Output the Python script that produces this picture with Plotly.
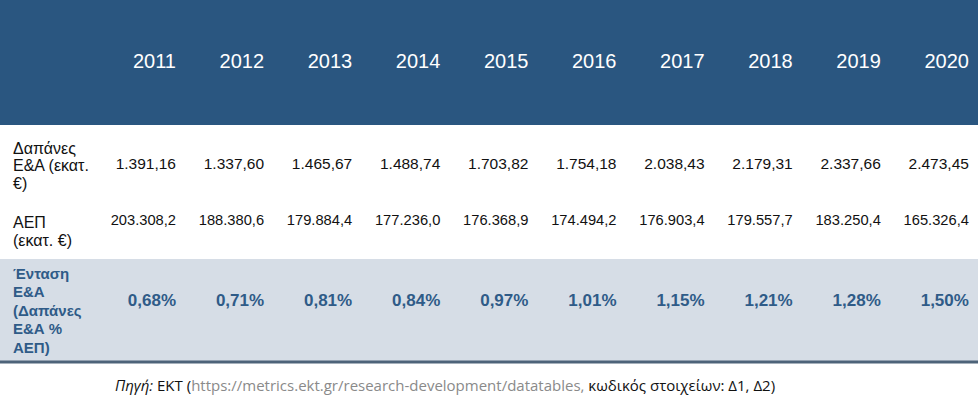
import plotly.graph_objects as go

years = ["2011", "2012", "2013", "2014", "2015", "2016", "2017", "2018", "2019", "2020"]
rd_spend = ["1.391,16", "1.337,60", "1.465,67", "1.488,74", "1.703,82",
            "1.754,18", "2.038,43", "2.179,31", "2.337,66", "2.473,45"]
gdp = ["203.308,2", "188.380,6", "179.884,4", "177.236,0", "176.368,9",
       "174.494,2", "176.903,4", "179.557,7", "183.250,4", "165.326,4"]
intensity = ["0,68%", "0,71%", "0,81%", "0,84%", "0,97%",
             "1,01%", "1,15%", "1,21%", "1,28%", "1,50%"]
row_labels = [
    ["Δαπάνες", "Ε&Α (εκατ.", "€)"],
    ["ΑΕΠ", "(εκατ. €)"],
    ["Ένταση", "Ε&Α", "(Δαπάνες", "Ε&Α %", "ΑΕΠ)"],
]

W, H = 978, 404
HEADER_BG = "#2a5680"
BAND_BG = "#d6dde6"
BLUE_TXT = "#2f5b88"
FONT = "Liberation Sans, Arial, sans-serif"

# right edge of each column in pixel units
col_x = [176 + 88.1 * i for i in range(len(years))]

fig = go.Figure()

fig.add_shape(type="rect", x0=0, x1=W, y0=0, y1=125, fillcolor=HEADER_BG, line_width=0, layer="below")
fig.add_shape(type="rect", x0=0, x1=W, y0=259, y1=362, fillcolor=BAND_BG, line_width=0, layer="below")
fig.add_shape(type="line", x0=0, x1=W, y0=362, y1=362, line=dict(color="#4d6379", width=3))


def row(values, y, size, color, bold=False):
    txt = [f"<b>{v}</b>" for v in values] if bold else values
    fig.add_trace(go.Scatter(
        x=col_x, y=[y] * len(values), text=txt, mode="text",
        textposition="middle left", textfont=dict(family=FONT, size=size, color=color),
        hoverinfo="skip", showlegend=False,
    ))


row(years, 63, 20, "white")
row(rd_spend, 165, 15.5, "#111111")
row(gdp, 221, 14.7, "#111111")
row(intensity, 302, 17, BLUE_TXT, bold=True)

# label blocks: (y of first line, line step, size, bold) - one annotation per line
label_specs = [(148, 17.5, 16, False), (222, 18, 16, False), (273, 18.5, 15, True)]
for lines, (y0, step, size, bold) in zip(row_labels, label_specs):
    for k, line in enumerate(lines):
        fig.add_annotation(
            x=11, y=y0 + k * step, xref="x", yref="y", xanchor="left", yanchor="middle",
            text=f"<b>{line}</b>" if bold else line, showarrow=False, align="left",
            font=dict(family=FONT, size=size, color=BLUE_TXT if bold else "#111111"),
        )

fig.add_annotation(
    x=445, y=385, xref="x", yref="y", xanchor="center", yanchor="middle", showarrow=False,
    text=("<i>Πηγή:</i> ΕΚΤ (<span style='color:#8a8a8a'>https://metrics.ekt.gr/research-development/datatables,</span>"
          " κωδικός στοιχείων: Δ1, Δ2)"),
    font=dict(family="Open Sans, sans-serif", size=15, color="#111111"),
)

fig.update_layout(
    width=W, height=H, margin=dict(l=0, r=0, t=0, b=0),
    paper_bgcolor="white", plot_bgcolor="white",
    xaxis=dict(range=[0, W], visible=False, fixedrange=True),
    yaxis=dict(range=[H, 0], visible=False, fixedrange=True),
)

fig.write_html(
    "out.html",
    config={"displayModeBar": False},
    post_script="document.body.style.margin='0';document.body.style.overflow='hidden';",
)
